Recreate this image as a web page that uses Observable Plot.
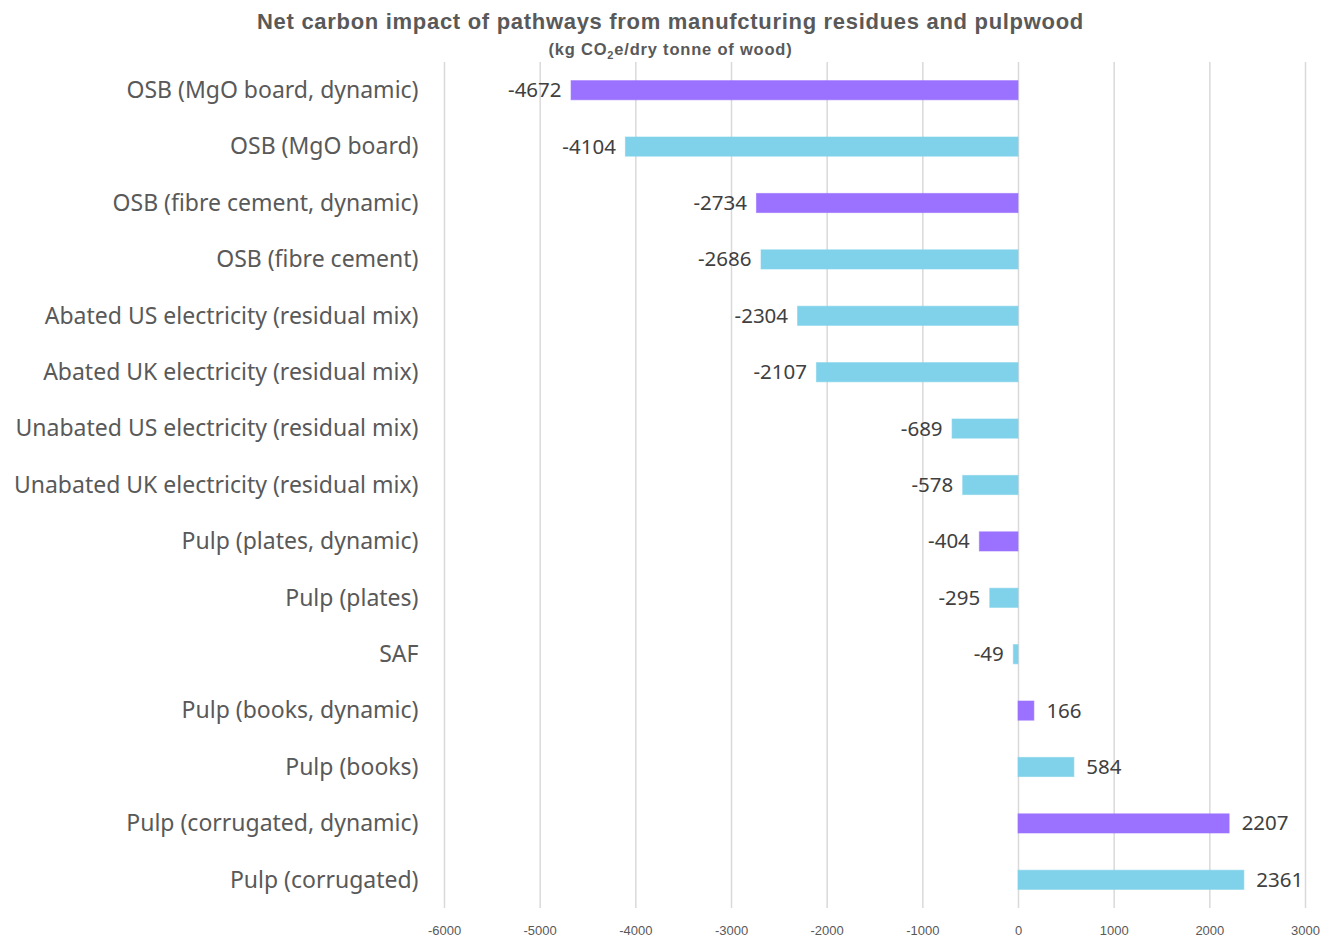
<!DOCTYPE html>
<html>
<head>
<meta charset="utf-8">
<script src="https://cdn.jsdelivr.net/npm/d3@7"></script>
<script src="https://cdn.jsdelivr.net/npm/@observablehq/plot@0.6"></script>
<style>
  html, body { margin: 0; padding: 0; background: #fff; }
  #wrap { position: relative; width: 1341px; height: 943px; overflow: hidden; }
  #head { position: relative; height: 62px; width: 1341px; }
  #title { position: absolute; left: 0; width: 1341px; top: 9px; text-align: center;
    font-family: "Liberation Sans", Arial, sans-serif; font-weight: bold; font-size: 22px; letter-spacing: 0.7px; color: #595959; }
  #subtitle { position: absolute; left: 0; width: 1341px; top: 40px; text-align: center;
    font-family: "Liberation Sans", Arial, sans-serif; font-weight: bold; font-size: 16.5px; letter-spacing: 0.8px; color: #595959; }
  #title span, #subtitle span { display: inline-block; }
</style>
</head>
<body>
<div id="wrap">
  <div id="head">
    <div id="title"><span>Net carbon impact of pathways from manufcturing residues and pulpwood</span></div>
    <div id="subtitle"><span>(kg CO<sub style="font-size:11px">2</sub>e/dry tonne of wood)</span></div>
  </div>
  <div id="chart"></div>
</div>
<script>
const categories = [
  "OSB (MgO board, dynamic)",
  "OSB (MgO board)",
  "OSB (fibre cement, dynamic)",
  "OSB (fibre cement)",
  "Abated US electricity (residual mix)",
  "Abated UK electricity (residual mix)",
  "Unabated US electricity (residual mix)",
  "Unabated UK electricity (residual mix)",
  "Pulp (plates, dynamic)",
  "Pulp (plates)",
  "SAF",
  "Pulp (books, dynamic)",
  "Pulp (books)",
  "Pulp (corrugated, dynamic)",
  "Pulp (corrugated)"
];
const values = [-4672, -4104, -2734, -2686, -2304, -2107, -689, -578, -404, -295, -49, 166, 584, 2207, 2361];
const series = ["dynamic", "static", "dynamic", "static", "static", "static", "static", "static", "dynamic", "static", "static", "dynamic", "static", "dynamic", "static"];
const xTicks = [-6000, -5000, -4000, -3000, -2000, -1000, 0, 1000, 2000, 3000];
const seriesNames = ["dynamic", "static"];
const seriesColors = ["#9b72ff", "#80d2ea"];

const data = categories.map((c, i) => ({category: c, value: values[i], series: series[i]}));

const chart = Plot.plot({
  width: 1341,
  height: 881,
  marginLeft: 444,
  marginRight: 36,
  marginTop: 0,
  marginBottom: 35,
  style: {fontFamily: "'Noto Sans', sans-serif", background: "#fff"},
  x: {domain: [-6000, 3000], ticks: xTicks, label: null},
  y: {domain: categories, paddingInner: 0.66, paddingOuter: 0.33, round: false, label: null},
  color: {domain: seriesNames, range: seriesColors},
  marks: [
    Plot.ruleX(xTicks, {stroke: "#d9d9d9", strokeWidth: 1.5}),
    Plot.barX(data, {y: "category", x: "value", fill: "series", stroke: "series", strokeOpacity: 0.6}),
    Plot.text(data.filter(d => d.value < 0), {y: "category", x: "value", text: d => String(d.value), textAnchor: "end", dx: -10, fontSize: 20.5, fill: "#404040"}),
    Plot.text(data.filter(d => d.value >= 0), {y: "category", x: "value", text: d => String(d.value), textAnchor: "start", dx: 12, fontSize: 20.5, fill: "#404040"}),
    Plot.axisX({ticks: xTicks, tickSize: 0, tickPadding: 17, fontSize: 13, fontFamily: "'Liberation Sans Narrow', 'Liberation Sans', sans-serif", color: "#595959", tickFormat: d => String(d), label: null}),
    Plot.axisY({tickSize: 0, tickPadding: 26, fontSize: 23, color: "#595959", label: null})
  ]
});
document.getElementById("chart").appendChild(chart);
</script>
</body>
</html>
